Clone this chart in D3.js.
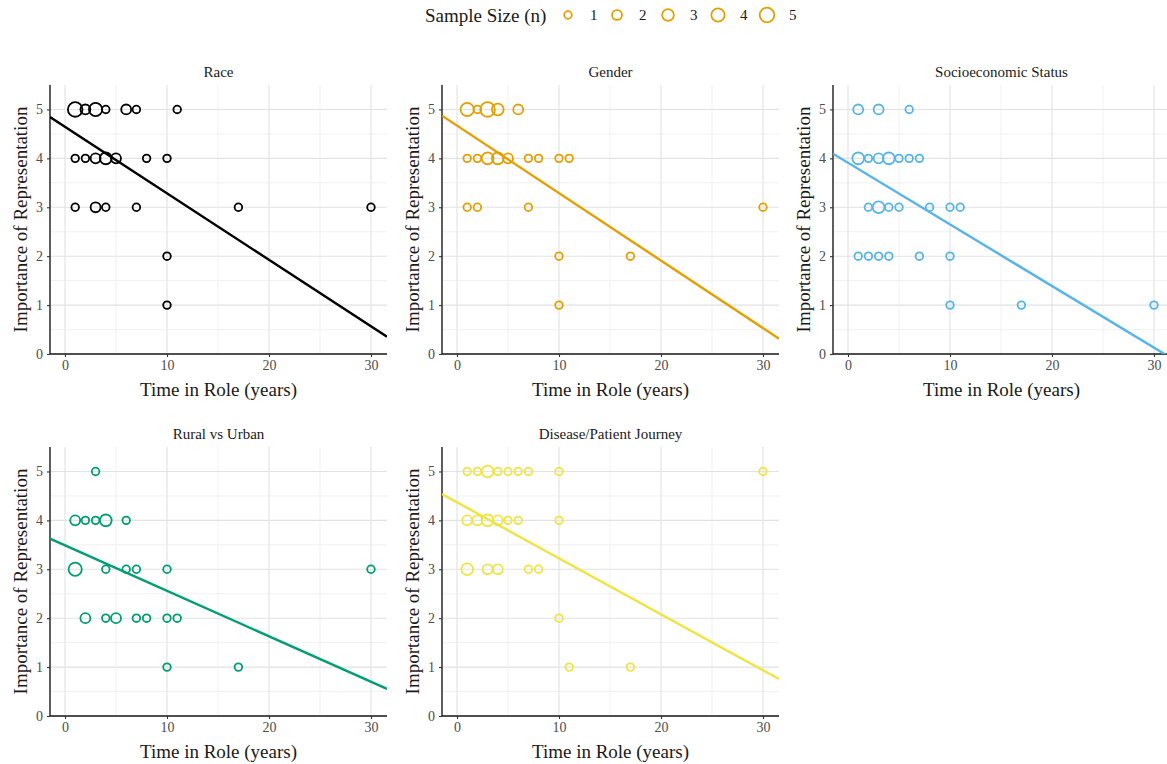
<!DOCTYPE html>
<html>
<head>
<meta charset="utf-8">
<script src="https://cdn.jsdelivr.net/npm/d3@7"></script>
<style>
  body { margin: 0; background: #fff; }
  svg { font-family: "Liberation Serif", "Times New Roman", serif; }
</style>
</head>
<body>
<div id="chart"></div>
<script>
// facet names + colours
var panels = ["Race", "Gender", "Socioeconomic Status", "Rural vs Urban", "Disease/Patient Journey"];
var colors = ["#000000", "#E69F00", "#56B4E9", "#009E73", "#F0E442"];

// points: [time in role, importance, n]
var racePoints = [
  [1,5,5],[2,5,2],[3,5,4],[4,5,1],[6,5,2],[7,5,1],[11,5,1],
  [1,4,1],[2,4,1],[3,4,2],[4,4,3],[5,4,2],[8,4,1],[10,4,1],
  [1,3,1],[3,3,2],[4,3,1],[7,3,1],[17,3,1],[30,3,1],
  [10,2,1],[10,1,1]
];
var genderPoints = [
  [1,5,4],[2,5,1],[3,5,5],[4,5,3],[6,5,2],
  [1,4,1],[2,4,1],[3,4,3],[4,4,3],[5,4,2],[7,4,1],[8,4,1],[10,4,1],[11,4,1],
  [1,3,1],[2,3,1],[7,3,1],[30,3,1],
  [10,2,1],[17,2,1],[10,1,1]
];
var sesPoints = [
  [1,5,2],[3,5,2],[6,5,1],
  [1,4,3],[2,4,1],[3,4,2],[4,4,3],[5,4,1],[6,4,1],[7,4,1],
  [2,3,1],[3,3,3],[4,3,1],[5,3,1],[8,3,1],[10,3,1],[11,3,1],
  [1,2,1],[2,2,1],[3,2,1],[4,2,1],[7,2,1],[10,2,1],
  [10,1,1],[17,1,1],[30,1,1]
];
var ruralPoints = [
  [3,5,1],
  [1,4,2],[2,4,1],[3,4,1],[4,4,3],[6,4,1],
  [1,3,4],[4,3,1],[6,3,1],[7,3,1],[10,3,1],[30,3,1],
  [2,2,2],[4,2,1],[5,2,2],[7,2,1],[8,2,1],[10,2,1],[11,2,1],
  [10,1,1],[17,1,1]
];
var diseasePoints = [
  [1,5,1],[2,5,1],[3,5,3],[4,5,1],[5,5,1],[6,5,1],[7,5,1],[10,5,1],[30,5,1],
  [1,4,2],[2,4,2],[3,4,3],[4,4,2],[5,4,1],[6,4,1],[10,4,1],
  [1,3,3],[3,3,2],[4,3,2],[7,3,1],[8,3,1],
  [10,2,1],[11,1,1],[17,1,1]
];

// fitted lines
var intercepts = [4.646, 4.67, 3.91, 3.49, 4.37];
var slopes = [-0.136, -0.138, -0.126, -0.093, -0.1145];

var xTicks = [0, 10, 20, 30];
var yTicks = [0, 1, 2, 3, 4, 5];
var legendSizes = [1, 2, 3, 4, 5];

var allPoints = [racePoints, genderPoints, sesPoints, ruralPoints, diseasePoints];

var W = 1167, H = 764;
var pw = 337, ph = 269;
var lefts = [50, 442, 833, 50, 442];
var tops = [85, 85, 85, 447, 447];

var svg = d3.select("#chart").append("svg")
    .attr("width", W)
    .attr("height", H);

var xScale = d3.scaleLinear().domain([-1.47, 31.57]).range([0, pw]);
var yScale = d3.scaleLinear().domain([0, 5.5]).range([ph, 0]);
var rScale = d3.scaleSqrt().domain([1, 5]).range([3.8, 7.3]);

// legend on top
var legend = svg.append("g").attr("class", "legend");
legend.append("text")
    .attr("x", 425).attr("y", 15)
    .attr("dy", ".35em")
    .style("font-size", "19px")
    .style("fill", "#1a1a1a")
    .text("Sample Size (n)");
var legX = [568, 617, 668, 718, 767];
legendSizes.forEach(function(n, i) {
  legend.append("circle")
      .attr("cx", legX[i]).attr("cy", 15)
      .attr("r", rScale(n))
      .style("fill", "none")
      .style("stroke", colors[1])
      .style("stroke-width", 1.8);
  legend.append("text")
      .attr("x", legX[i] + 22).attr("y", 15)
      .attr("dy", ".35em")
      .style("font-size", "15px")
      .style("fill", "#1a1a1a")
      .text(n);
});

panels.forEach(function(name, p) {
  var g = svg.append("g")
      .attr("transform", "translate(" + lefts[p] + "," + tops[p] + ")");

  g.append("clipPath").attr("id", "clip" + p)
    .append("rect").attr("width", pw).attr("height", ph);

  // grid
  var minorX = [5, 15, 25], minorY = [0.5, 1.5, 2.5, 3.5, 4.5];
  g.selectAll(".mx").data(minorX).enter().append("line")
      .attr("x1", xScale).attr("x2", xScale).attr("y1", 0).attr("y2", ph)
      .style("stroke", "#eeeeee").style("stroke-width", 0.8);
  g.selectAll(".my").data(minorY).enter().append("line")
      .attr("x1", 0).attr("x2", pw).attr("y1", yScale).attr("y2", yScale)
      .style("stroke", "#eeeeee").style("stroke-width", 0.8);
  g.selectAll(".gx").data(xTicks).enter().append("line")
      .attr("x1", xScale).attr("x2", xScale).attr("y1", 0).attr("y2", ph)
      .style("stroke", "#e2e2e2").style("stroke-width", 1.1);
  g.selectAll(".gy").data(yTicks).enter().append("line")
      .attr("x1", 0).attr("x2", pw).attr("y1", yScale).attr("y2", yScale)
      .style("stroke", "#e2e2e2").style("stroke-width", 1.1);

  // axes
  var xAxis = d3.axisBottom(xScale).tickValues(xTicks).tickSize(3).tickPadding(3);
  var yAxis = d3.axisLeft(yScale).tickValues(yTicks).tickSize(3).tickPadding(4)
      .tickFormat(d3.format("d"));
  var gx = g.append("g").attr("transform", "translate(0," + ph + ")").call(xAxis);
  var gy = g.append("g").call(yAxis);
  [gx, gy].forEach(function(a) {
    a.select(".domain").style("stroke", "#1a1a1a").style("stroke-width", 1.4);
    a.selectAll(".tick line").style("stroke", "#333").style("stroke-width", 1.1);
    a.selectAll(".tick text")
        .style("font-family", "Liberation Serif, serif")
        .style("font-size", "14px")
        .style("fill", "#4d4d4d");
  });
  // lines that end right at the panel edges
  gx.select(".domain").attr("d", "M0,0H" + pw);
  gy.select(".domain").attr("d", "M0,0V" + ph);

  // points
  g.selectAll(".dot")
      .data(allPoints[p])
    .enter().append("circle")
      .attr("class", "dot")
      .attr("cx", function(d) { return xScale(d[0]); })
      .attr("cy", function(d) { return yScale(d[1]); })
      .attr("r", function(d) { return rScale(d[2]); })
      .style("fill", "none")
      .style("stroke", colors[p])
      .style("stroke-width", 1.8);

  // regression line
  var xd = xScale.domain();
  g.append("line")
      .attr("clip-path", "url(#clip" + p + ")")
      .attr("x1", xScale(xd[0])).attr("y1", yScale(intercepts[p] + slopes[p] * xd[0]))
      .attr("x2", xScale(xd[1])).attr("y2", yScale(intercepts[p] + slopes[p] * xd[1]))
      .style("stroke", colors[p])
      .style("stroke-width", 2.4);

  // facet title
  g.append("text")
      .attr("x", pw / 2).attr("y", -13)
      .attr("dy", ".35em")
      .style("text-anchor", "middle")
      .style("font-size", "15px")
      .style("fill", "#1a1a1a")
      .text(name);

  // axis titles
  g.append("text")
      .attr("x", pw / 2).attr("y", ph + 35)
      .attr("dy", ".35em")
      .style("text-anchor", "middle")
      .style("font-size", "19px")
      .style("fill", "#1a1a1a")
      .text("Time in Role (years)");
  g.append("text")
      .attr("transform", "translate(-30," + (ph / 2) + ") rotate(-90)")
      .attr("dy", ".35em")
      .style("text-anchor", "middle")
      .style("font-size", "19px")
      .style("fill", "#1a1a1a")
      .text("Importance of Representation");
});
</script>
</body>
</html>
